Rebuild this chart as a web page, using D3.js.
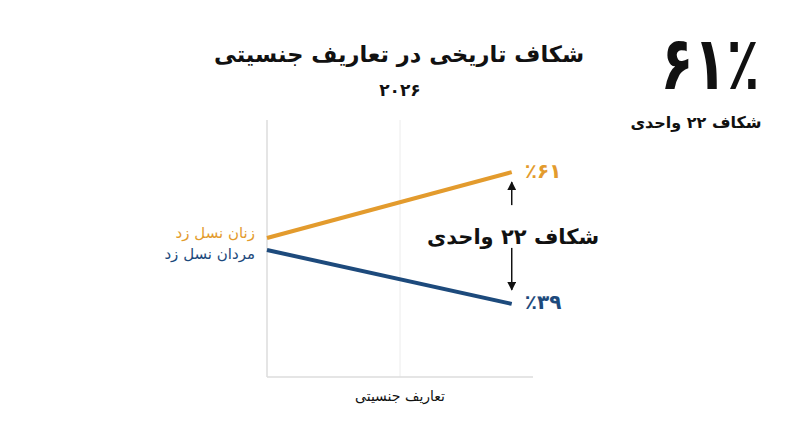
<!DOCTYPE html>
<html lang="fa">
<head>
<meta charset="utf-8">
<script src="https://cdn.jsdelivr.net/npm/d3@7"></script>
<style>
  html, body { margin: 0; padding: 0; background: #ffffff; }
  svg { display: block; font-family: "DejaVu Sans", sans-serif; }
</style>
</head>
<body>
<svg id="chart" width="800" height="447"></svg>
<script>
// ---- data ----
const seriesNames = ["زنان نسل زد", "مردان نسل زد"];
const positions = [0, 0.92];            // start, end along the x axis
const womenValues = [50, 61];
const menValues = [48, 39];
const endLabels = ["٪۶۱", "٪۳۹"];
const gridTicks = [0.5];
const titleText = "شکاف تاریخی در تعاریف جنسیتی";
const subtitleText = "۲۰۲۶";
const bigNumber = "۶۱٪";
const gapText = "شکاف ۲۲ واحدی";
const xAxisLabel = "تعاریف جنسیتی";

const colors = { women: "#E39B2D", men: "#1D4A7C" };

const svg = d3.select("#chart");
const font = "DejaVu Sans, sans-serif";

const x = d3.scaleLinear().domain([0, 1]).range([267, 533]);
const y = d3.scaleLinear().domain([26.8, 69.7]).range([377, 120]);

// gridline
svg.selectAll("line.grid").data(gridTicks).join("line")
  .attr("x1", d => x(d)).attr("x2", d => x(d))
  .attr("y1", y(69.7)).attr("y2", y(26.8))
  .attr("stroke", "#ececec").attr("stroke-width", 1);

// axes
svg.append("line").attr("x1", x(0)).attr("x2", x(0))
  .attr("y1", y(69.7)).attr("y2", y(26.8))
  .attr("stroke", "#dcdcdc").attr("stroke-width", 1.5);
svg.append("line").attr("x1", x(0)).attr("x2", x(1))
  .attr("y1", y(26.8)).attr("y2", y(26.8))
  .attr("stroke", "#dcdcdc").attr("stroke-width", 1.5);

// lines
const line = d3.line().x((d, i) => x(positions[i])).y(d => y(d));
const series = [
  { name: seriesNames[0], values: womenValues, color: colors.women, label: endLabels[0] },
  { name: seriesNames[1], values: menValues, color: colors.men, label: endLabels[1] }
];
svg.selectAll("path.series").data(series).join("path")
  .attr("d", d => line(d.values))
  .attr("fill", "none")
  .attr("stroke", d => d.color)
  .attr("stroke-width", 4);

// left labels
svg.selectAll("text.leftlab").data(series).join("text")
  .attr("x", x(0) - 12)
  .attr("y", (d, i) => y(d.values[0]) + (i === 0 ? -5 : 5))
  .attr("direction", "rtl")
  .attr("text-anchor", "start")
  .attr("dominant-baseline", "middle")
  .attr("font-family", font)
  .attr("font-size", 15)
  .attr("fill", d => d.color)
  .text(d => d.name);

// end labels
svg.selectAll("text.endlab").data(series).join("text")
  .attr("x", x(positions[1]) + 13)
  .attr("y", d => y(d.values[1]))
  .attr("text-anchor", "start")
  .attr("dominant-baseline", "middle")
  .attr("font-family", font)
  .attr("font-size", 20)
  .attr("font-weight", "bold")
  .attr("fill", d => d.color)
  .text(d => d.label);

// gap annotation arrows
const ax = x(positions[1]);
const yTop = y(womenValues[1]);
const yBot = y(menValues[1]);
svg.append("defs").append("marker")
  .attr("id", "ah").attr("viewBox", "0 0 10 10")
  .attr("refX", 9).attr("refY", 5)
  .attr("markerWidth", 9).attr("markerHeight", 9)
  .attr("markerUnits", "userSpaceOnUse")
  .attr("orient", "auto")
  .append("path").attr("d", "M0,0 L10,5 L0,10 Z").attr("fill", "#111");
svg.append("line").attr("x1", ax).attr("x2", ax)
  .attr("y1", yTop + 33).attr("y2", yTop + 10)
  .attr("stroke", "#111").attr("stroke-width", 1.5).attr("marker-end", "url(#ah)");
svg.append("line").attr("x1", ax).attr("x2", ax)
  .attr("y1", yBot - 56).attr("y2", yBot - 14)
  .attr("stroke", "#111").attr("stroke-width", 1.5).attr("marker-end", "url(#ah)");

svg.append("text")
  .attr("x", 513).attr("y", 238)
  .attr("text-anchor", "middle")
  .attr("dominant-baseline", "middle")
  .attr("direction", "rtl")
  .attr("font-family", font)
  .attr("font-size", 21)
  .attr("font-weight", "bold")
  .attr("fill", "#111")
  .text(gapText);

// title
svg.append("text")
  .attr("x", 399).attr("y", 55)
  .attr("text-anchor", "middle")
  .attr("dominant-baseline", "middle")
  .attr("direction", "rtl")
  .attr("font-family", font)
  .attr("font-size", 22.5)
  .attr("font-weight", "bold")
  .attr("fill", "#111")
  .text(titleText);
svg.append("text")
  .attr("x", 400).attr("y", 91)
  .attr("text-anchor", "middle")
  .attr("dominant-baseline", "middle")
  .attr("font-family", font)
  .attr("font-size", 17)
  .attr("font-weight", "bold")
  .attr("fill", "#111")
  .text(subtitleText);

// big number top right
svg.append("text")
  .attr("transform", "translate(710,69) scale(0.82,1.12)")
  .attr("text-anchor", "middle")
  .attr("dominant-baseline", "middle")
  .attr("font-family", font)
  .attr("font-size", 66)
  .attr("font-weight", "bold")
  .attr("fill", "#111")
  .text(bigNumber);
svg.append("text")
  .attr("x", 696).attr("y", 123)
  .attr("text-anchor", "middle")
  .attr("dominant-baseline", "middle")
  .attr("direction", "rtl")
  .attr("font-family", font)
  .attr("font-size", 16)
  .attr("font-weight", "bold")
  .attr("fill", "#111")
  .text(gapText);

// x axis label
svg.append("text")
  .attr("x", x(0.5)).attr("y", 397)
  .attr("text-anchor", "middle")
  .attr("dominant-baseline", "middle")
  .attr("direction", "rtl")
  .attr("font-family", font)
  .attr("font-size", 14)
  .attr("fill", "#111")
  .text(xAxisLabel);
</script>
</body>
</html>
